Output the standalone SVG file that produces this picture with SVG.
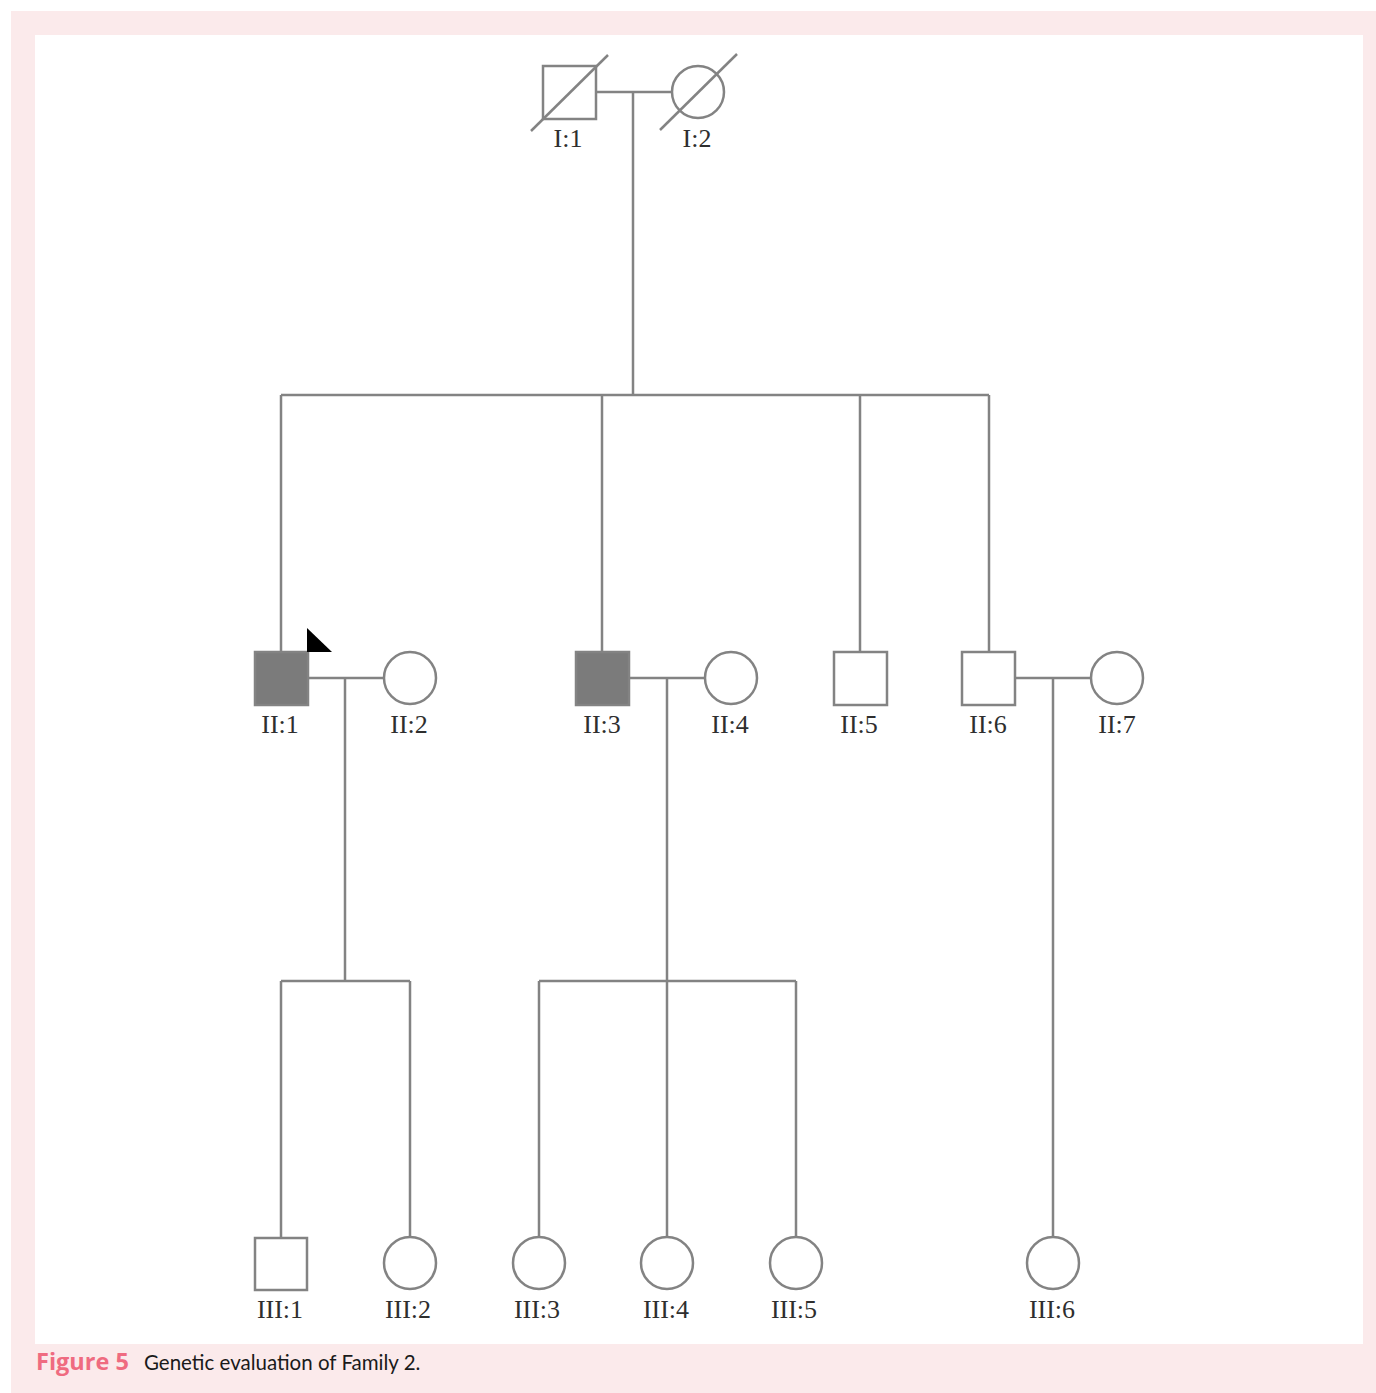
<svg xmlns="http://www.w3.org/2000/svg" width="1376" height="1393" viewBox="0 0 1376 1393">
  <style>
    .ln { stroke: #838383; stroke-width: 2.5; fill: none; }
    .sym { stroke: #838383; stroke-width: 2.5; fill: #ffffff; }
    .aff { stroke: #838383; stroke-width: 2.5; fill: #7b7b7b; }
    .lbl { font-family: "Liberation Serif", "Times New Roman", serif; font-size: 26px; fill: #2e2e2e; text-anchor: middle; }
    .capnum { font-family: "Open Sans", "Liberation Sans", sans-serif; font-size: 23.5px; font-weight: 700; fill: #ef6b80; }
    .captxt { font-family: "Lato", "Open Sans", sans-serif; font-size: 20.5px; fill: #1a1a1a; }
  </style>

  <!-- frame -->
  <rect x="0" y="0" width="1376" height="1393" fill="#ffffff"/>
  <rect x="11" y="11" width="1365" height="1382" fill="#fbeaeb"/>
  <rect x="35" y="35" width="1328" height="1309" fill="#ffffff"/>

  <!-- connectors -->
  <g id="connectors">
    <!-- generation I couple and descent -->
    <line class="ln" x1="596" y1="92" x2="672" y2="92"/>
    <line class="ln" x1="633" y1="92" x2="633" y2="395"/>
    <line class="ln" x1="281" y1="395" x2="989" y2="395"/>
    <line class="ln" x1="281" y1="395" x2="281" y2="652"/>
    <line class="ln" x1="602" y1="395" x2="602" y2="652"/>
    <line class="ln" x1="860" y1="395" x2="860" y2="652"/>
    <line class="ln" x1="989" y1="395" x2="989" y2="652"/>
    <!-- II:1 x II:2 -->
    <line class="ln" x1="308" y1="678" x2="384" y2="678"/>
    <line class="ln" x1="345" y1="678" x2="345" y2="981"/>
    <line class="ln" x1="281" y1="981" x2="410" y2="981"/>
    <line class="ln" x1="281" y1="981" x2="281" y2="1238"/>
    <line class="ln" x1="410" y1="981" x2="410" y2="1237"/>
    <!-- II:3 x II:4 -->
    <line class="ln" x1="629" y1="678" x2="705" y2="678"/>
    <line class="ln" x1="667" y1="678" x2="667" y2="1237"/>
    <line class="ln" x1="539" y1="981" x2="796" y2="981"/>
    <line class="ln" x1="539" y1="981" x2="539" y2="1237"/>
    <line class="ln" x1="796" y1="981" x2="796" y2="1237"/>
    <!-- II:6 x II:7 -->
    <line class="ln" x1="1015" y1="678" x2="1091" y2="678"/>
    <line class="ln" x1="1053" y1="678" x2="1053" y2="1237"/>
  </g>

  <!-- generation I -->
  <g id="I-1">
    <rect class="sym" x="543" y="66" width="53" height="53"/>
    <line class="ln" x1="531" y1="131" x2="608" y2="55"/>
    <text class="lbl" x="568" y="147">I:1</text>
  </g>
  <g id="I-2">
    <circle class="sym" cx="698" cy="92" r="26"/>
    <line class="ln" x1="660" y1="130" x2="737" y2="54"/>
    <text class="lbl" x="697" y="147">I:2</text>
  </g>

  <!-- generation II -->
  <g id="II-1">
    <rect class="aff" x="255" y="652" width="53" height="53"/>
    <polygon points="307,628 332,652 307,652" fill="#000000"/>
    <text class="lbl" x="280" y="733">II:1</text>
  </g>
  <g id="II-2">
    <circle class="sym" cx="410" cy="678" r="26"/>
    <text class="lbl" x="409" y="733">II:2</text>
  </g>
  <g id="II-3">
    <rect class="aff" x="576" y="652" width="53" height="53"/>
    <text class="lbl" x="602" y="733">II:3</text>
  </g>
  <g id="II-4">
    <circle class="sym" cx="731" cy="678" r="26"/>
    <text class="lbl" x="730" y="733">II:4</text>
  </g>
  <g id="II-5">
    <rect class="sym" x="834" y="652" width="53" height="53"/>
    <text class="lbl" x="859" y="733">II:5</text>
  </g>
  <g id="II-6">
    <rect class="sym" x="962" y="652" width="53" height="53"/>
    <text class="lbl" x="988" y="733">II:6</text>
  </g>
  <g id="II-7">
    <circle class="sym" cx="1117" cy="678" r="26"/>
    <text class="lbl" x="1117" y="733">II:7</text>
  </g>

  <!-- generation III -->
  <g id="III-1">
    <rect class="sym" x="255" y="1238" width="52" height="52"/>
    <text class="lbl" x="280" y="1318">III:1</text>
  </g>
  <g id="III-2">
    <circle class="sym" cx="410" cy="1263" r="26"/>
    <text class="lbl" x="408" y="1318">III:2</text>
  </g>
  <g id="III-3">
    <circle class="sym" cx="539" cy="1263" r="26"/>
    <text class="lbl" x="537" y="1318">III:3</text>
  </g>
  <g id="III-4">
    <circle class="sym" cx="667" cy="1263" r="26"/>
    <text class="lbl" x="666" y="1318">III:4</text>
  </g>
  <g id="III-5">
    <circle class="sym" cx="796" cy="1263" r="26"/>
    <text class="lbl" x="794" y="1318">III:5</text>
  </g>
  <g id="III-6">
    <circle class="sym" cx="1053" cy="1263" r="26"/>
    <text class="lbl" x="1052" y="1318">III:6</text>
  </g>

  <!-- caption -->
  <text class="capnum" x="36" y="1370">Figure 5</text>
  <text class="captxt" x="144" y="1370">Genetic evaluation of Family 2.</text>
</svg>
